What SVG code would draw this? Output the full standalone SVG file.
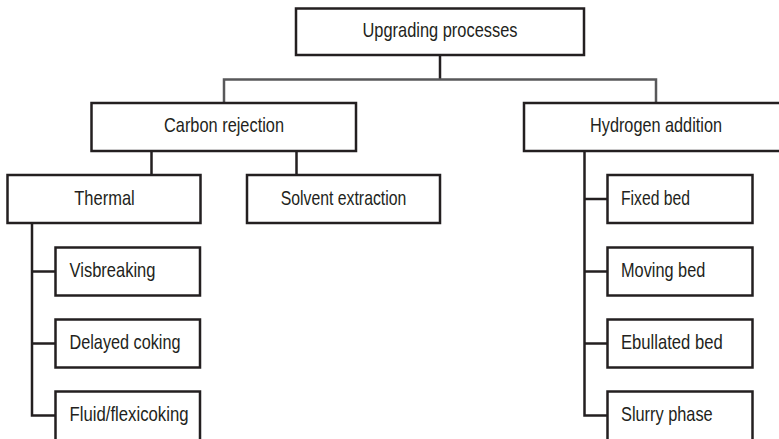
<svg xmlns="http://www.w3.org/2000/svg" width="779" height="439" viewBox="0 0 779 439">
  <style>
    .box { fill: #fff; stroke: #231f20; stroke-width: 2.5; }
    .link { fill: none; stroke: #231f20; stroke-width: 2.5; }
    .link-grey { fill: none; stroke: #58585a; stroke-width: 2.5; }
    text { font-family: "Liberation Sans Narrow", "Liberation Sans", Arial, sans-serif; font-size: 21px; fill: #231f20; }
    .c { text-anchor: middle; }
  </style>
  <rect width="779" height="439" fill="#fff"/>

  <!-- connectors -->
  <g id="connectors">
    <path class="link" d="M440 55 V79.5"/>
    <path class="link-grey" d="M224 103 V79.5 H656 V103"/>
    <path class="link" d="M151.5 151 V175 M296.5 151 V175"/>
    <path class="link" d="M32 223 V415.5 H55.5 M32 271.5 H55.5 M32 343.5 H55.5"/>
    <path class="link" d="M584.5 151 V415.5 H607.5 M584.5 199 H607.5 M584.5 271.5 H607.5 M584.5 343.5 H607.5"/>
  </g>

  <!-- root -->
  <g id="upgrading">
    <rect class="box" x="296" y="8.5" width="288" height="46.5"/>
    <text class="c" x="440" y="37" textLength="155" lengthAdjust="spacingAndGlyphs">Upgrading processes</text>
  </g>

  <!-- level 1 -->
  <g id="carbon-rejection">
    <rect class="box" x="91.5" y="103" width="264.5" height="48"/>
    <text class="c" x="224" y="132" textLength="120" lengthAdjust="spacingAndGlyphs">Carbon rejection</text>
  </g>
  <g id="hydrogen-addition">
    <rect class="box" x="524" y="103" width="270" height="48"/>
    <text class="c" x="656" y="132" textLength="132" lengthAdjust="spacingAndGlyphs">Hydrogen addition</text>
  </g>

  <!-- carbon rejection branches -->
  <g id="thermal">
    <rect class="box" x="7.5" y="175" width="193" height="48"/>
    <text class="c" x="104.5" y="204.5" textLength="60.5" lengthAdjust="spacingAndGlyphs">Thermal</text>
  </g>
  <g id="solvent-extraction">
    <rect class="box" x="247" y="175" width="193" height="48"/>
    <text class="c" x="343.5" y="204.5" textLength="125.7" lengthAdjust="spacingAndGlyphs">Solvent extraction</text>
  </g>

  <!-- thermal processes -->
  <g id="visbreaking">
    <rect class="box" x="55.5" y="247.5" width="144.5" height="48"/>
    <text x="69.5" y="277" textLength="86" lengthAdjust="spacingAndGlyphs">Visbreaking</text>
  </g>
  <g id="delayed-coking">
    <rect class="box" x="55.5" y="319.5" width="144.5" height="48"/>
    <text x="69.5" y="349" textLength="111" lengthAdjust="spacingAndGlyphs">Delayed coking</text>
  </g>
  <g id="fluid-flexicoking">
    <rect class="box" x="55.5" y="391.5" width="144.5" height="52"/>
    <text x="69.5" y="421" textLength="119" lengthAdjust="spacingAndGlyphs">Fluid/flexicoking</text>
  </g>

  <!-- hydrogen addition processes -->
  <g id="fixed-bed">
    <rect class="box" x="607.5" y="175" width="145" height="48"/>
    <text x="621" y="204.5" textLength="69" lengthAdjust="spacingAndGlyphs">Fixed bed</text>
  </g>
  <g id="moving-bed">
    <rect class="box" x="607.5" y="247.5" width="145" height="48"/>
    <text x="621" y="277" textLength="84.3" lengthAdjust="spacingAndGlyphs">Moving bed</text>
  </g>
  <g id="ebullated-bed">
    <rect class="box" x="607.5" y="319.5" width="145" height="48"/>
    <text x="621" y="349" textLength="101.7" lengthAdjust="spacingAndGlyphs">Ebullated bed</text>
  </g>
  <g id="slurry-phase">
    <rect class="box" x="607.5" y="391.5" width="145" height="52"/>
    <text x="621" y="421" textLength="91.7" lengthAdjust="spacingAndGlyphs">Slurry phase</text>
  </g>
</svg>
